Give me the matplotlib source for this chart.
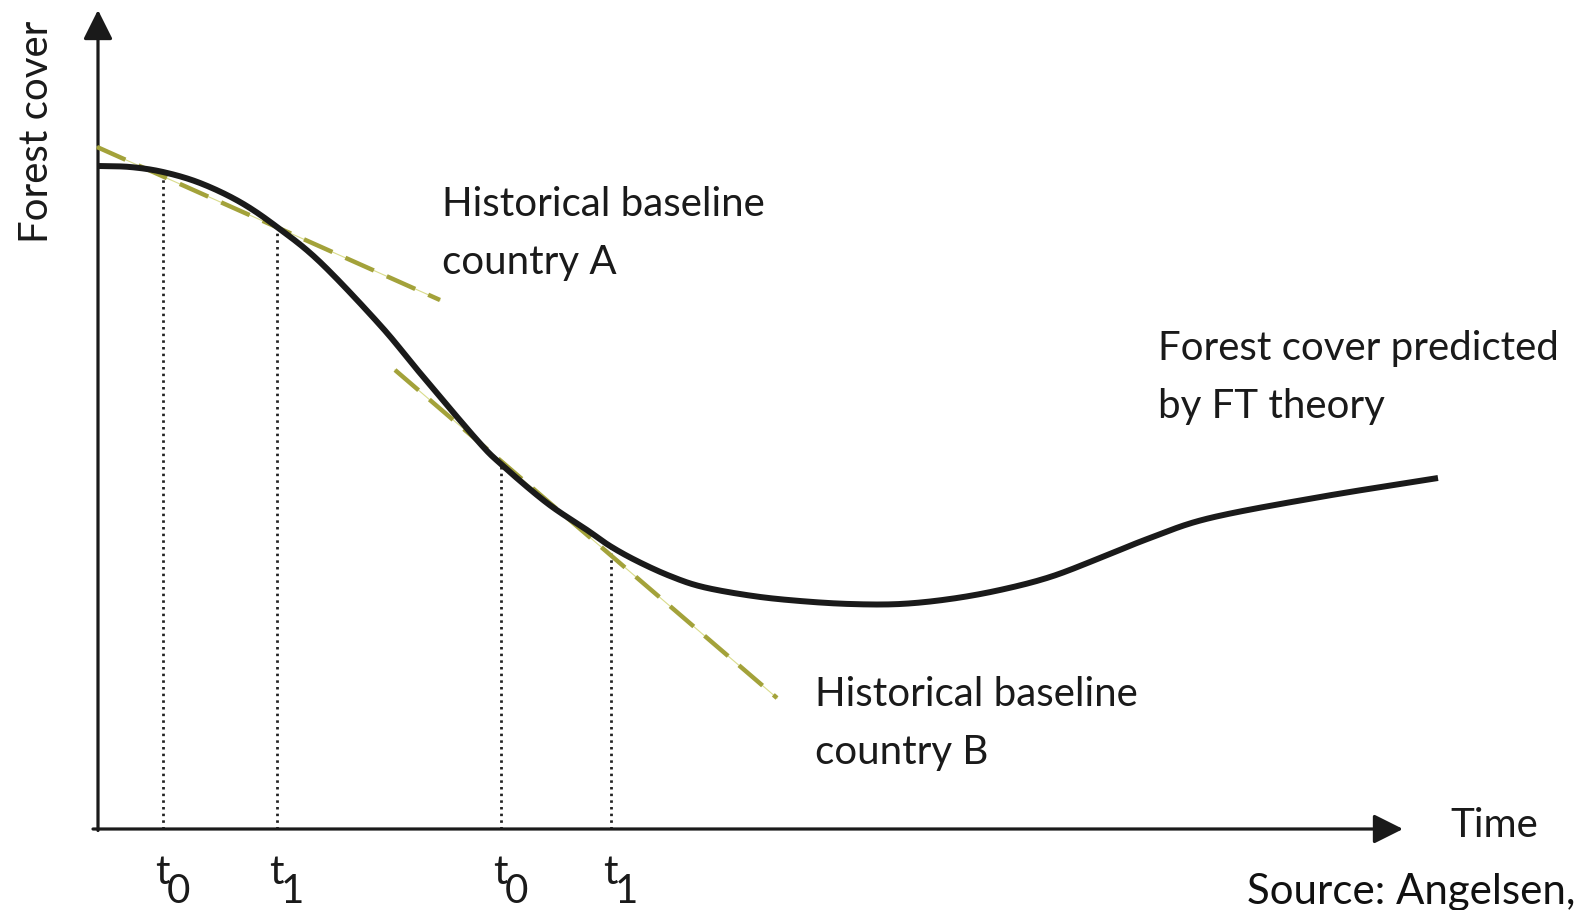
import numpy as np
import matplotlib
matplotlib.use("Agg")
import matplotlib.pyplot as plt
from matplotlib.transforms import Affine2D

# ---------------- data (time units from origin, forest cover above time axis) -------------
curve_time = [0, 32, 65, 102, 142, 179, 222, 282, 322, 379, 404, 449, 489, 512, 539,
              572, 605, 655, 702, 752, 802, 852, 902, 952, 1002, 1052, 1112, 1222, 1340]
curve_cover = [663, 662, 657, 646, 627, 602, 567, 504, 456, 389, 364, 326, 299, 283, 268,
               253, 242, 233, 228, 225, 225, 230, 239, 252, 271, 291, 311, 332, 351]

baseline_A_time = [-1, 342]
baseline_A_cover = [682, 529]
baseline_B_time = [297, 679]
baseline_B_cover = [459, 131]

mark_times = [65, 179, 403, 513]
mark_labels = [("t", "0"), ("t", "1"), ("t", "0"), ("t", "1")]

y_label = "Forest cover"
x_label = "Time"
label_A = ["Historical baseline", "country A"]
label_B = ["Historical baseline", "country B"]
label_FT = ["Forest cover predicted", "by FT theory"]
source = "Source: Angelsen,"

# ---------------- figure ---------------------------------------------------------------
W, H = 1580, 910
OX, OY = 98, 829  # origin of the axes in pixels
fig = plt.figure(figsize=(W / 100, H / 100), dpi=100)
ax = fig.add_axes([0, 0, 1, 1])
ax.set_xlim(-OX, W - OX)
ax.set_ylim(OY - H, OY)
ax.axis("off")

# pixel (top-left origin) transform for text placement
px = Affine2D().scale(1 / W, -1 / H).translate(0, 1) + fig.transFigure


def catmull(xs, ys, n=30):
    P = np.column_stack([xs, ys]).astype(float)
    P = np.vstack([2 * P[0] - P[1], P, 2 * P[-1] - P[-2]])
    out = []
    t = np.linspace(0, 1, n, endpoint=False)[:, None]
    for i in range(1, len(P) - 2):
        p0, p1, p2, p3 = P[i - 1], P[i], P[i + 1], P[i + 2]
        seg = 0.5 * ((2 * p1) + (-p0 + p2) * t + (2 * p0 - 5 * p1 + 4 * p2 - p3) * t ** 2
                     + (-p0 + 3 * p1 - 3 * p2 + p3) * t ** 3)
        out.append(seg)
    out.append(P[-2][None])
    return np.vstack(out)


sm = catmull(curve_time, curve_cover)

# axes with arrows
ax.annotate("", xy=(0, OY - 10), xytext=(0, -1.5),
            arrowprops=dict(arrowstyle="-|>,head_length=0.4,head_width=0.2", lw=2.3,
                            color="#1a1a1a", mutation_scale=45, shrinkA=0, shrinkB=0))
ax.annotate("", xy=(1403 - OX, 0), xytext=(-5, 0),
            arrowprops=dict(arrowstyle="-|>,head_length=0.4,head_width=0.2", lw=2.3,
                            color="#1a1a1a", mutation_scale=45, shrinkA=0, shrinkB=0))

# dotted verticals
for tm in mark_times:
    top = np.interp(tm, sm[:, 0], sm[:, 1])
    ax.plot([tm, tm], [0, top], color="#222222", lw=2.0, linestyle=(0, (0.9, 1.5)), zorder=2)

# baselines (dashed olive with thin pale line underneath)
for bt, bc in [(baseline_A_time, baseline_A_cover), (baseline_B_time, baseline_B_cover)]:
    ax.plot(bt, bc, color="#d9dc8c", lw=0.8, zorder=3)
    ax.plot(bt, bc, color="#a3a23a", lw=3.2, linestyle=(0, (7.0, 3.2)),
            solid_capstyle="butt", zorder=3)

# FT curve
ax.plot(sm[:, 0], sm[:, 1], color="#1a1a1a", lw=4.3, solid_capstyle="butt",
        solid_joinstyle="round", zorder=4)

# ---------------- text ---------------------------------------------------------------
FONT = "Lato"
renderer = fig.canvas.get_renderer()


def fit_size(s, width_px, family, base=30):
    t = fig.text(0, 0, s, fontsize=base, family=family)
    w = t.get_window_extent(renderer).width
    t.remove()
    return base * width_px / w


fs = fit_size("Historical baseline", 322, FONT)

for lines, x0, y0 in [(label_A, 442, 216), (label_B, 815, 706), (label_FT, 1158, 360)]:
    for k, line in enumerate(lines):
        ax.text(x0, y0 + 58 * k, line, transform=px, fontsize=fs, family=FONT,
                color="#1a1a1a", ha="left", va="baseline")

ax.text(1450, 837, x_label, transform=px, fontsize=fs, family=FONT,
        color="#1a1a1a", ha="left", va="baseline")
ax.text(48, 132, y_label, transform=px, fontsize=fs, family=FONT, rotation=90,
        color="#1a1a1a", ha="center", va="baseline", rotation_mode="anchor")

# tick-like labels t0, t1
for tm, (base_s, sub_s) in zip(mark_times, mark_labels):
    xpx = tm + OX
    ax.text(xpx + 7, 884, base_s, transform=px, fontsize=fs, family=FONT,
            color="#1a1a1a", ha="right", va="baseline")
    ax.text(xpx + 4, 903, sub_s, transform=px, fontsize=fs, family=FONT,
            color="#1a1a1a", ha="left", va="baseline")

fs_src = fit_size(source, 328, "Lato")
ax.text(1247, 904, source, transform=px, fontsize=fs_src, family="Lato",
        color="#111111", ha="left", va="baseline")

fig.savefig("out.png", dpi=100)
